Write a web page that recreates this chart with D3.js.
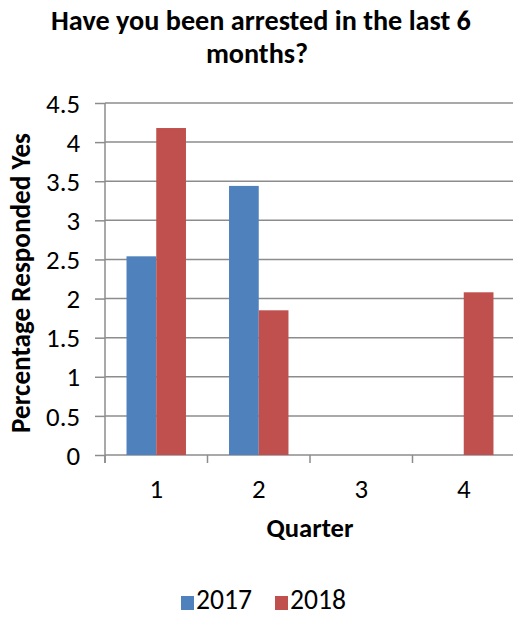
<!DOCTYPE html>
<html><head><meta charset="utf-8">
<script src="https://cdn.jsdelivr.net/npm/d3@7"></script>
<style>body{margin:0;background:#fff}svg{display:block}</style>
</head><body>
<script>
const categories = ["1","2","3","4"];
const seriesNames = ["2017","2018"];
const values2017 = [2.54, 3.44, 0, 0];
const values2018 = [4.18, 1.85, 0, 2.08];
const yTicks = [0,0.5,1,1.5,2,2.5,3,3.5,4,4.5];
const colors = ["#4F81BD","#C0504D"];
const font = "Carlito, Lato, 'Open Sans', sans-serif";

const W=513,H=618;
const svg=d3.select("body").append("svg").attr("width",W).attr("height",H);
const L=105,R=515,T=103,B=455;
const x=d3.scaleBand().domain(categories).range([L,R]).paddingInner(0.42).paddingOuter(0.21);
const xs=d3.scaleBand().domain(seriesNames).range([0,x.bandwidth()]);
const y=d3.scaleLinear().domain([0,4.5]).range([B,T]);

// scale a text's font size so that its width matches a target width
function fit(sel, target){
  const n=sel.node(); const fs=parseFloat(sel.attr("font-size"));
  const w=n.getComputedTextLength(); if(w>0) sel.attr("font-size",fs*target/w);
  return sel;
}

// gridlines
svg.append("g").selectAll("line").data(yTicks).join("line")
 .attr("x1",L).attr("x2",R).attr("y1",d=>y(d)).attr("y2",d=>y(d))
 .attr("stroke","#8c8c8c").attr("stroke-width",1.5);

// bars
const data=categories.map((c,i)=>({c,vals:[values2017[i],values2018[i]]}));
svg.append("g").selectAll("g").data(data).join("g")
 .attr("transform",d=>`translate(${x(d.c)},0)`)
 .selectAll("rect").data(d=>d.vals.map((v,j)=>({v,s:seriesNames[j],j})))
 .join("rect")
 .attr("x",d=>xs(d.s)).attr("width",xs.bandwidth())
 .attr("y",d=>y(d.v)).attr("height",d=>B-y(d.v))
 .attr("fill",d=>colors[d.j]);

// tick font size derived from the width of "4.5"
const probe=svg.append("text").attr("font-family",font).attr("font-size",15).text("4.5");
fit(probe,34); const tickFS=parseFloat(probe.attr("font-size")); probe.remove();

// y axis
const ya=svg.append("g").attr("transform",`translate(${L},0)`)
 .call(d3.axisLeft(y).tickValues(yTicks).tickSize(10).tickPadding(15).tickFormat(d3.format("")));
ya.select(".domain").attr("stroke","#8c8c8c").attr("stroke-width",1.5).attr("d",`M-0,${T}V${B+8}`);
ya.selectAll(".tick line").attr("stroke","#8c8c8c").attr("stroke-width",1.5);
ya.selectAll("text").attr("font-family",font).attr("font-size",tickFS).attr("fill","#000").attr("dy","0.34em");

// x axis
const xb=d3.scaleLinear().domain([0,4]).range([L,R]);
const xa=svg.append("g").attr("transform",`translate(0,${B})`);
xa.selectAll("line").data([0,1,2,3]).join("line")
 .attr("x1",d=>xb(d)).attr("x2",d=>xb(d)).attr("y1",0).attr("y2",8)
 .attr("stroke","#8c8c8c").attr("stroke-width",1.5);
xa.selectAll("text").data(categories).join("text")
 .attr("x",d=>x(d)+x.bandwidth()/2).attr("y",43)
 .attr("text-anchor","middle").attr("font-family",font).attr("font-size",tickFS).text(d=>d);

// titles
const t1=fit(svg.append("text").attr("x",261).attr("y",30).attr("text-anchor","middle")
 .attr("font-family",font).attr("font-weight","bold").attr("font-size",20).text("Have you been arrested in the last 6"),420);
svg.append("text").attr("x",257).attr("y",63).attr("text-anchor","middle")
 .attr("font-family",font).attr("font-weight","bold").attr("font-size",t1.attr("font-size")).text("months?");
fit(svg.append("text").attr("transform","translate(30,283) rotate(-90)").attr("text-anchor","middle")
 .attr("font-family",font).attr("font-weight","bold").attr("font-size",15).text("Percentage Responded Yes"),300);
fit(svg.append("text").attr("x",310).attr("y",537).attr("text-anchor","middle")
 .attr("font-family",font).attr("font-weight","bold").attr("font-size",16).text("Quarter"),87);

// legend
const lg=svg.append("g").selectAll("g").data(seriesNames).join("g")
 .attr("transform",(d,i)=>`translate(${181+i*94},596)`);
lg.append("rect").attr("width",13).attr("height",14).attr("fill",(d,i)=>colors[i]);
lg.append("text").attr("x",15).attr("y",13).attr("font-family",font).attr("font-size",17).text(d=>d)
 .each(function(){fit(d3.select(this),56);});
</script>
</body></html>
